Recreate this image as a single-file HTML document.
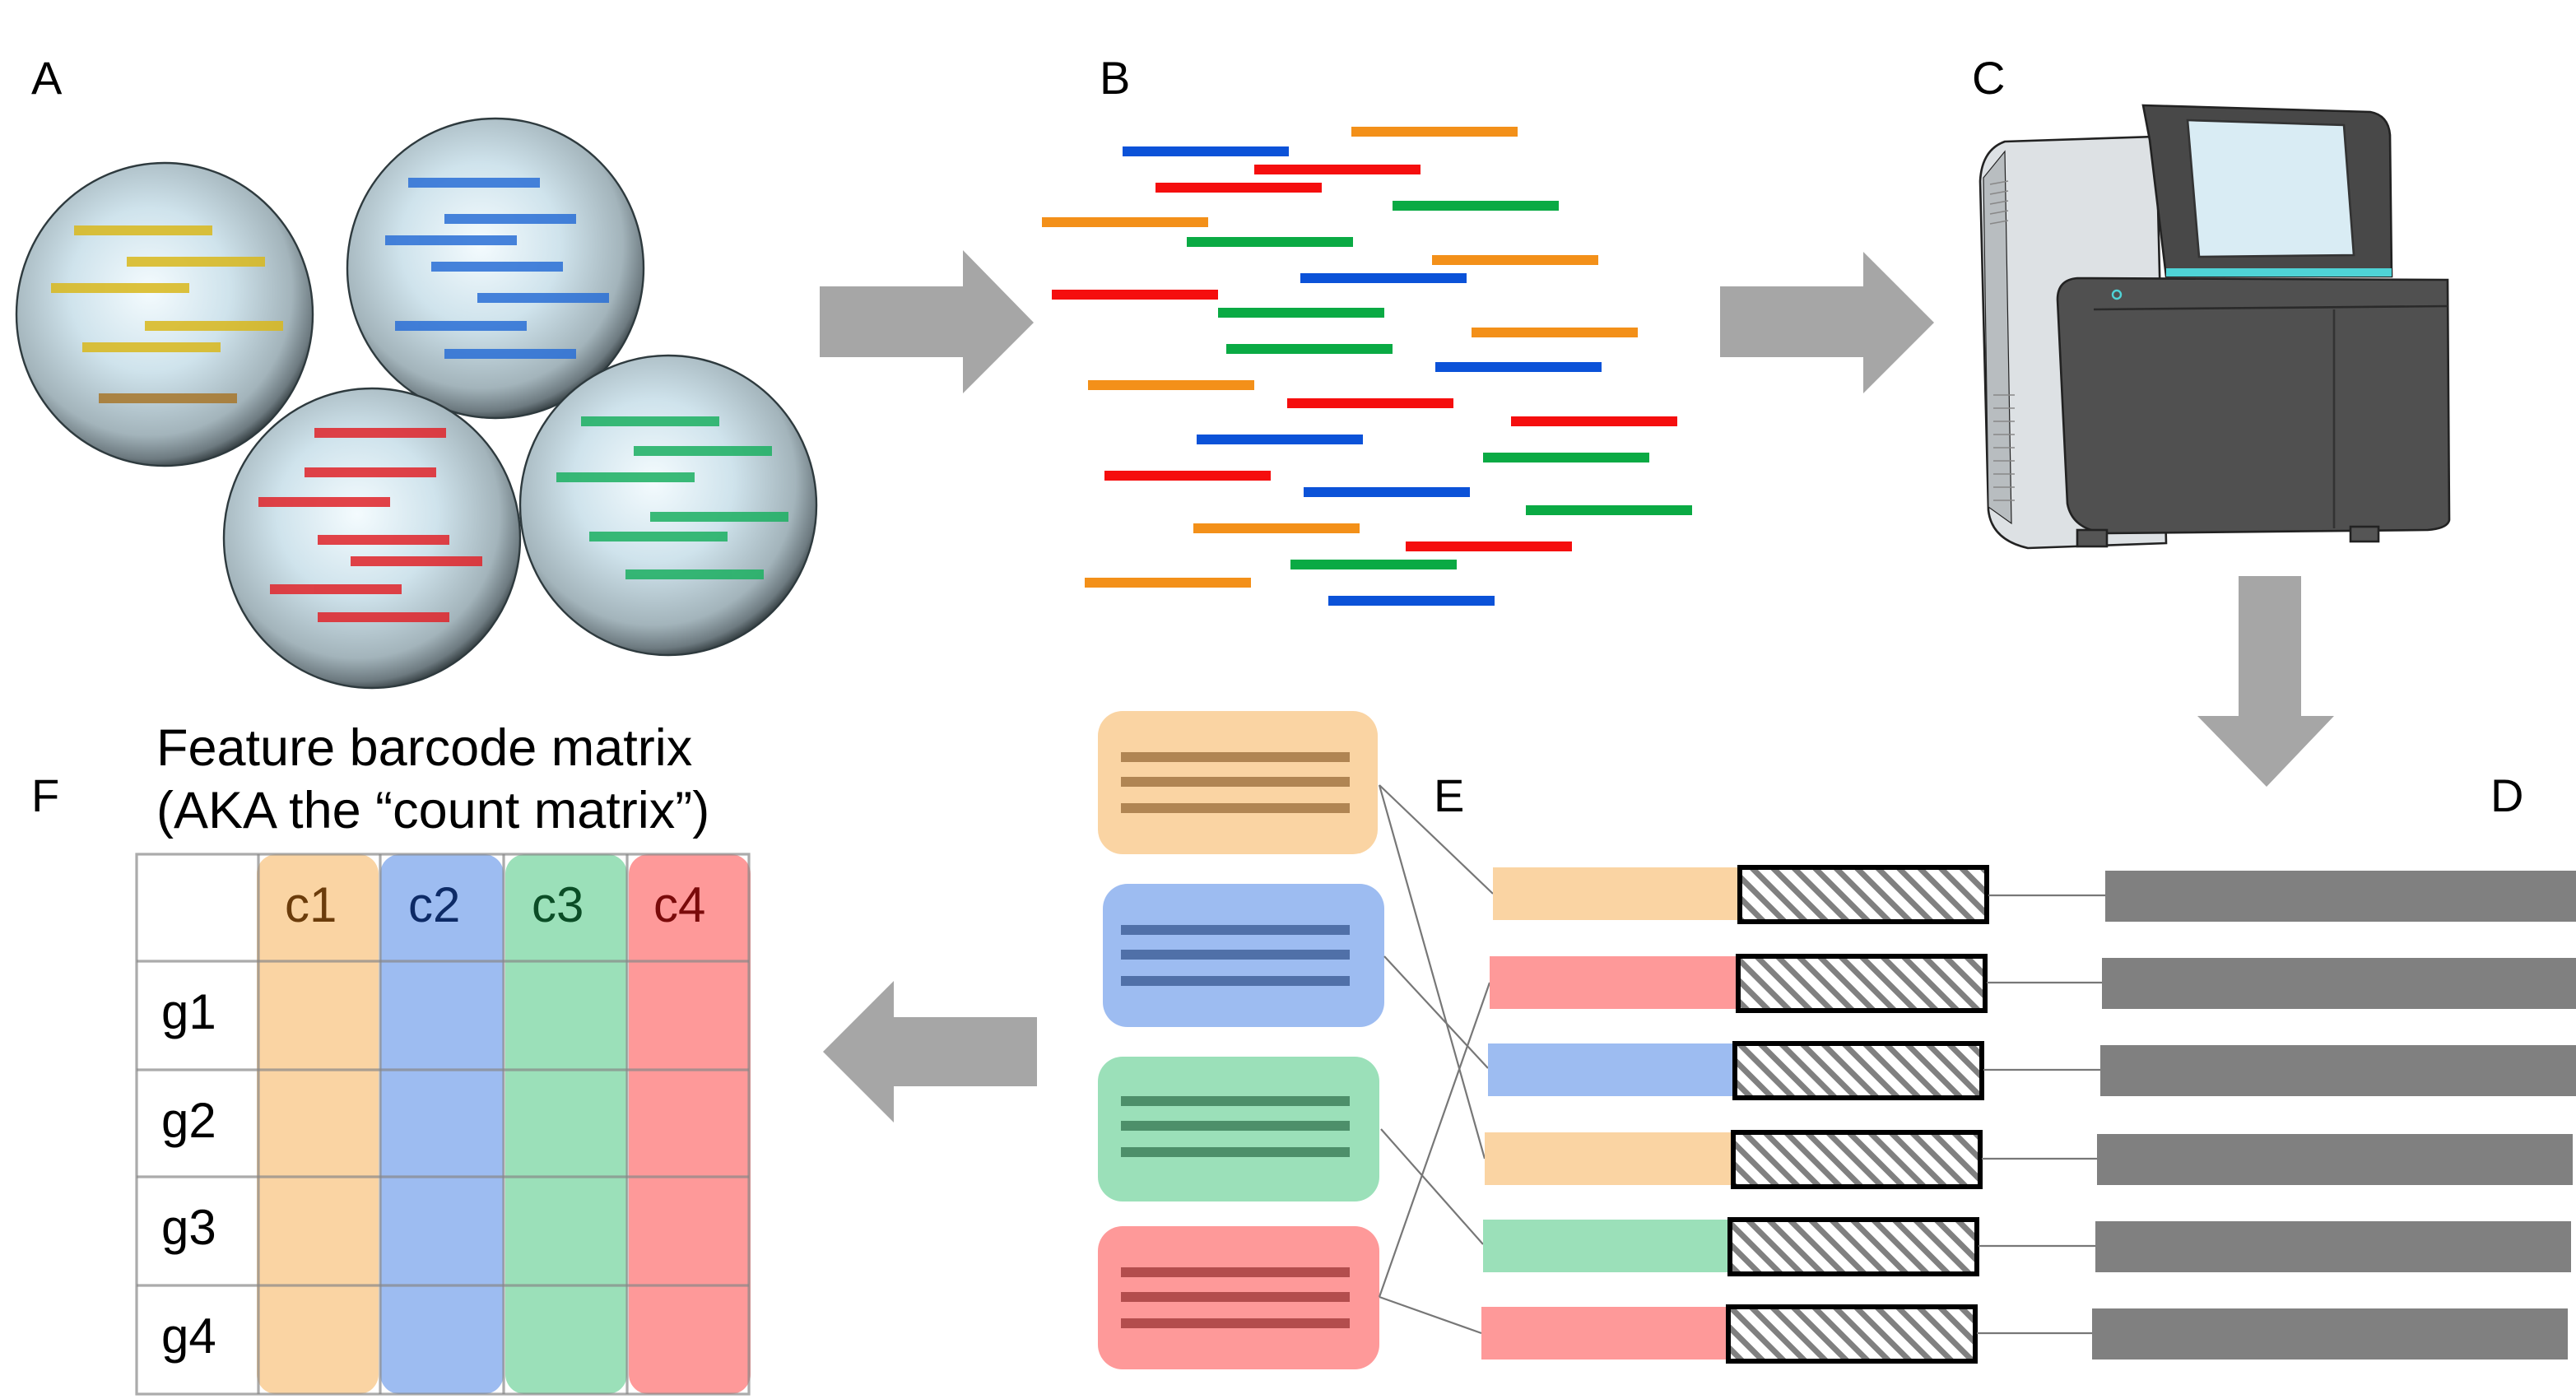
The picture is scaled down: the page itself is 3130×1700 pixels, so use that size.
<!DOCTYPE html>
<html><head><meta charset="utf-8"><style>html,body{margin:0;padding:0;background:#fff}svg{display:block}</style></head>
<body>
<svg width="3130" height="1700" viewBox="0 0 1565 850" xmlns="http://www.w3.org/2000/svg" font-family="'Liberation Sans', sans-serif">
<defs>
<radialGradient id="bub" cx="0.45" cy="0.42" r="0.6">
<stop offset="0" stop-color="#f4fbfe"/><stop offset="0.45" stop-color="#cfe3ec"/><stop offset="0.8" stop-color="#a3b4bb"/><stop offset="0.93" stop-color="#6d7a80"/><stop offset="1" stop-color="#2a3336"/>
</radialGradient>
<pattern id="hatch" width="9" height="9" patternUnits="userSpaceOnUse" patternTransform="rotate(-45)">
<rect width="9" height="9" fill="#fff"/><rect width="3.5" height="9" fill="#808080"/>
</pattern>
</defs>
<g font-size="28" fill="#000">
<text x="19" y="57">A</text><text x="668" y="57">B</text><text x="1198" y="57">C</text>
<text x="1513" y="493">D</text><text x="871" y="493">E</text><text x="19" y="493">F</text>
</g>
<g stroke="#2e3a3e" stroke-width="1.2" fill="url(#bub)">
<ellipse cx="100" cy="191" rx="90" ry="92"/>
<ellipse cx="301" cy="163" rx="90" ry="91"/>
<ellipse cx="406" cy="307" rx="90" ry="91"/>
<ellipse cx="226" cy="327" rx="90" ry="91"/>
</g>
<g opacity="0.85">
<g fill="#d9b81c"><rect x="45" y="137" width="84" height="6"/><rect x="77" y="156" width="84" height="6"/><rect x="31" y="172" width="84" height="6"/><rect x="88" y="195" width="84" height="6"/><rect x="50" y="208" width="84" height="6"/></g>
<rect x="60" y="239" width="84" height="6" fill="#a8772b"/>
<g fill="#2a6fd6"><rect x="248" y="108" width="80" height="6"/><rect x="270" y="130" width="80" height="6"/><rect x="234" y="143" width="80" height="6"/><rect x="262" y="159" width="80" height="6"/><rect x="290" y="178" width="80" height="6"/><rect x="240" y="195" width="80" height="6"/><rect x="270" y="212" width="80" height="6"/></g>
<g fill="#1cb062"><rect x="353" y="253" width="84" height="6"/><rect x="385" y="271" width="84" height="6"/><rect x="338" y="287" width="84" height="6"/><rect x="395" y="311" width="84" height="6"/><rect x="358" y="323" width="84" height="6"/><rect x="380" y="346" width="84" height="6"/></g>
</g>
<g fill="#e0242a" opacity="0.85"><rect x="191" y="260" width="80" height="6"/><rect x="185" y="284" width="80" height="6"/><rect x="157" y="302" width="80" height="6"/><rect x="193" y="325" width="80" height="6"/><rect x="213" y="338" width="80" height="6"/><rect x="164" y="355" width="80" height="6"/><rect x="193" y="372" width="80" height="6"/></g>
<g>
<rect x="821" y="77" width="101" height="6" fill="#f39019"/>
<rect x="682" y="89" width="101" height="6" fill="#0b52d8"/>
<rect x="762" y="100" width="101" height="6" fill="#f50e0e"/>
<rect x="702" y="111" width="101" height="6" fill="#f50e0e"/>
<rect x="846" y="122" width="101" height="6" fill="#0aaa44"/>
<rect x="633" y="132" width="101" height="6" fill="#f39019"/>
<rect x="721" y="144" width="101" height="6" fill="#0aaa44"/>
<rect x="870" y="155" width="101" height="6" fill="#f39019"/>
<rect x="790" y="166" width="101" height="6" fill="#0b52d8"/>
<rect x="639" y="176" width="101" height="6" fill="#f50e0e"/>
<rect x="740" y="187" width="101" height="6" fill="#0aaa44"/>
<rect x="894" y="199" width="101" height="6" fill="#f39019"/>
<rect x="745" y="209" width="101" height="6" fill="#0aaa44"/>
<rect x="872" y="220" width="101" height="6" fill="#0b52d8"/>
<rect x="661" y="231" width="101" height="6" fill="#f39019"/>
<rect x="782" y="242" width="101" height="6" fill="#f50e0e"/>
<rect x="918" y="253" width="101" height="6" fill="#f50e0e"/>
<rect x="727" y="264" width="101" height="6" fill="#0b52d8"/>
<rect x="901" y="275" width="101" height="6" fill="#0aaa44"/>
<rect x="671" y="286" width="101" height="6" fill="#f50e0e"/>
<rect x="792" y="296" width="101" height="6" fill="#0b52d8"/>
<rect x="927" y="307" width="101" height="6" fill="#0aaa44"/>
<rect x="725" y="318" width="101" height="6" fill="#f39019"/>
<rect x="854" y="329" width="101" height="6" fill="#f50e0e"/>
<rect x="784" y="340" width="101" height="6" fill="#0aaa44"/>
<rect x="659" y="351" width="101" height="6" fill="#f39019"/>
<rect x="807" y="362" width="101" height="6" fill="#0b52d8"/>
</g>
<g fill="#a6a6a6">
<polygon points="498,174 585,174 585,152 628,196 585,239 585,217 498,217"/>
<polygon points="1045,174 1132,174 1132,153 1175,196 1132,239 1132,217 1045,217"/>
<polygon points="1360,350 1398,350 1398,435 1418,435 1377,478 1335,435 1360,435"/>
<polygon points="630,618 543,618 543,596 500,639 543,682 543,660 630,660"/>
</g>
<!-- machine -->
<g stroke="#222" stroke-width="1.3">
<path d="M1218,86 L1310,83 L1316,330 L1232,333 Q1210,328 1208,310 L1203,110 Q1204,91 1218,86 Z" fill="#dde1e4"/>
<path d="M1205,108 L1218,92 L1222,318 L1208,308 Z" fill="#b8bdc0" stroke-width="0.6"/>
<path d="M1302,64 L1440,68 Q1451,70 1452,82 L1453,168 L1316,168 L1306,85 Z" fill="#484848"/>
<polygon points="1329,73 1424,76 1430,155 1336,156" fill="#d9ecf4" stroke="#333"/>
<rect x="1316" y="163" width="137" height="5" fill="#4fd3d6" stroke="none"/>
<path d="M1262,169 L1487,170 L1488,316 Q1487,321 1475,322 L1280,324 Q1259,322 1256,306 L1250,182 Q1250,170 1262,169 Z" fill="#505050"/>
<line x1="1272" y1="188" x2="1487" y2="186" stroke="#2a2a2a"/>
<line x1="1418" y1="188" x2="1418" y2="321" stroke="#333"/>
<rect x="1262" y="322" width="18" height="10" fill="#555"/><rect x="1428" y="320" width="17" height="9" fill="#555"/>
</g>
<circle cx="1286" cy="179" r="2.5" fill="none" stroke="#4fd3d6" stroke-width="1.2"/>
<g stroke="#888" stroke-width="0.8">
<line x1="1209" y1="112" x2="1220" y2="110"/><line x1="1209" y1="118" x2="1220" y2="116"/><line x1="1209" y1="124" x2="1220" y2="122"/><line x1="1209" y1="130" x2="1220" y2="128"/><line x1="1209" y1="136" x2="1220" y2="134"/>
<line x1="1211" y1="240" x2="1224" y2="240"/><line x1="1211" y1="248" x2="1224" y2="248"/><line x1="1211" y1="256" x2="1224" y2="256"/><line x1="1211" y1="264" x2="1224" y2="264"/><line x1="1211" y1="272" x2="1224" y2="272"/><line x1="1211" y1="280" x2="1224" y2="280"/><line x1="1211" y1="288" x2="1224" y2="288"/><line x1="1211" y1="296" x2="1224" y2="296"/><line x1="1211" y1="304" x2="1224" y2="304"/>
</g>
<!-- E boxes -->
<rect x="667" y="432" width="170" height="87" rx="15" fill="#fad4a3"/>
<g fill="#b08553"><rect x="681" y="457" width="139" height="6"/><rect x="681" y="472" width="139" height="6"/><rect x="681" y="488" width="139" height="6"/></g>
<rect x="670" y="537" width="171" height="87" rx="15" fill="#9dbcf1"/>
<g fill="#5070a8"><rect x="681" y="562" width="139" height="6"/><rect x="681" y="577" width="139" height="6"/><rect x="681" y="593" width="139" height="6"/></g>
<rect x="667" y="642" width="171" height="88" rx="15" fill="#9be0b9"/>
<g fill="#4d8f6a"><rect x="681" y="666" width="139" height="6"/><rect x="681" y="681" width="139" height="6"/><rect x="681" y="697" width="139" height="6"/></g>
<rect x="667" y="745" width="171" height="87" rx="15" fill="#fe9999"/>
<g fill="#b34d4d"><rect x="681" y="770" width="139" height="6"/><rect x="681" y="785" width="139" height="6"/><rect x="681" y="801" width="139" height="6"/></g>
<g stroke="#777" stroke-width="1.1">
<line x1="838" y1="477" x2="907" y2="543"/><line x1="838" y1="477" x2="902" y2="704"/>
<line x1="841" y1="581" x2="904" y2="649"/><line x1="839" y1="686" x2="901" y2="756"/>
<line x1="838" y1="788" x2="905" y2="597"/><line x1="838" y1="788" x2="900" y2="810"/>
</g>
<g>
<rect x="907" y="527" width="149" height="32" fill="#fad4a3"/>
<rect x="905" y="581" width="150" height="32" fill="#fe9999"/>
<rect x="904" y="634" width="149" height="32" fill="#9dbcf1"/>
<rect x="902" y="688" width="150" height="32" fill="#fad4a3"/>
<rect x="901" y="741" width="149" height="32" fill="#9be0b9"/>
<rect x="900" y="794" width="149" height="32" fill="#fe9999"/>
</g>
<g stroke="#000" stroke-width="3" fill="url(#hatch)">
<rect x="1057" y="527" width="150" height="33"/>
<rect x="1056" y="581" width="150" height="33"/>
<rect x="1054" y="634" width="150" height="33"/>
<rect x="1053" y="688" width="150" height="33"/>
<rect x="1051" y="741" width="150" height="33"/>
<rect x="1050" y="794" width="150" height="33"/>
</g>
<g stroke="#777" stroke-width="1.1">
<line x1="1208" y1="544" x2="1279" y2="544"/><line x1="1207" y1="597" x2="1277" y2="597"/><line x1="1205" y1="650" x2="1276" y2="650"/>
<line x1="1204" y1="704" x2="1274" y2="704"/><line x1="1202" y1="757" x2="1273" y2="757"/><line x1="1201" y1="810" x2="1271" y2="810"/>
</g>
<g fill="#808080">
<rect x="1279" y="529" width="288" height="31"/>
<rect x="1277" y="582" width="289" height="31"/>
<rect x="1276" y="635" width="289" height="31"/>
<rect x="1274" y="689" width="289" height="31"/>
<rect x="1273" y="742" width="289" height="31"/>
<rect x="1271" y="795" width="289" height="31"/>
</g>
<text x="95" y="465" font-size="31.5">Feature barcode matrix</text>
<text x="95" y="503" font-size="31.5">(AKA the “count matrix”)</text>
<rect x="83" y="519" width="372" height="328" fill="#fff"/>
<rect x="156" y="519" width="74" height="328" rx="12" fill="#fad4a3"/>
<rect x="231" y="519" width="75" height="328" rx="12" fill="#9dbcf1"/>
<rect x="307" y="519" width="74" height="328" rx="12" fill="#9be0b9"/>
<rect x="382" y="519" width="74" height="328" rx="12" fill="#fe9999"/>
<g stroke="#888" stroke-opacity="0.7" stroke-width="1.6" fill="none">
<rect x="83" y="519" width="372" height="328"/>
<line x1="157" y1="519" x2="157" y2="847"/><line x1="231" y1="519" x2="231" y2="847"/><line x1="306" y1="519" x2="306" y2="847"/><line x1="381" y1="519" x2="381" y2="847"/>
<line x1="83" y1="584" x2="455" y2="584"/><line x1="83" y1="650" x2="455" y2="650"/><line x1="83" y1="715" x2="455" y2="715"/><line x1="83" y1="781" x2="455" y2="781"/>
</g>
<g font-size="30">
<text x="173" y="560" fill="#6b3c0b">c1</text><text x="248" y="560" fill="#0d2a66">c2</text>
<text x="323" y="560" fill="#0b4d26">c3</text><text x="397" y="560" fill="#7a0a0a">c4</text>
<text x="98" y="625">g1</text><text x="98" y="691">g2</text><text x="98" y="756">g3</text><text x="98" y="822">g4</text>
</g>
</svg>
</body></html>
